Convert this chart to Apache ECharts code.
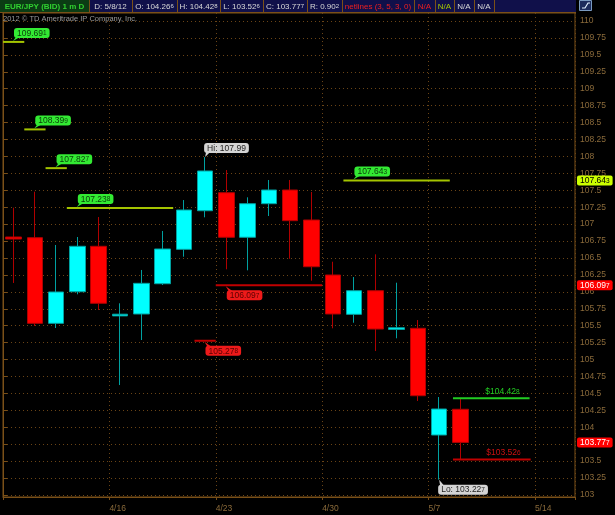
<!DOCTYPE html>
<html><head><meta charset="utf-8">
<script src="https://cdn.jsdelivr.net/npm/echarts@6/dist/echarts.min.js"></script>
<style>html,body{margin:0;padding:0;background:#000;}#c{width:615px;height:515px;}</style>
</head><body><div id="c"></div>
<script>
// ---- data (EUR/JPY daily, 4/9/12 - 5/8/12) ----
const dates  = ['4/9','4/10','4/11','4/12','4/13','4/16','4/17','4/18','4/19','4/20','4/23','4/24','4/25','4/26','4/27','4/30','5/1','5/2','5/3','5/4','5/7','5/8'];
const opens  = [106.81,106.800,105.535,106.002,106.673,105.645,105.673,106.120,106.628,107.198,107.464,106.806,107.302,107.504,107.061,106.249,105.668,106.017,105.445,105.462,103.886,104.266];
const closes = [106.78,105.535,105.998,106.673,105.831,105.670,106.126,106.633,107.209,107.785,106.806,107.302,107.504,107.051,106.371,105.673,106.017,105.451,105.470,104.466,104.270,103.777];
const lows   = [106.131,105.496,105.466,105.964,105.732,104.624,105.289,106.101,106.519,107.101,106.333,106.318,107.120,106.489,106.165,105.462,105.544,105.126,105.314,104.388,103.227,103.526];
const highs  = [107.243,107.479,106.692,106.810,107.105,105.831,106.323,106.899,107.356,107.990,107.799,107.396,107.652,107.652,107.475,106.445,106.219,106.554,106.135,105.584,104.447,104.428];
const weekLabels = ['4/16','4/23','4/30','5/7','5/14'];
const yTicks = [103,103.25,103.5,103.75,104,104.25,104.5,104.75,105,105.25,105.5,105.75,106,106.25,106.5,106.75,107,107.25,107.5,107.75,108,108.25,108.5,108.75,109,109.25,109.5,109.75,110];
// resistance levels (green), support levels (red): value, from-slot, to-slot
const upLevels   = [109.691,108.399,107.827,107.238,107.643];
const upFrom     = [-0.5,0.5,1.5,2.5,15.5];
const upTo       = [0.5,1.5,2.5,7.5,20.5];
const downLevels = [106.097,105.278];
const downFrom   = [9.5,8.5];
const downTo     = [14.5,9.5];
// target lines
const targetValues = [104.428,103.526];
const targetFrom   = [20.65,20.65];
const targetTo     = [24.25,24.3];
const hiValue = 107.99, hiIndex = 9;
const loValue = 103.227, loIndex = 20;
const rValue = 0.902;

// ---- helpers ----
const X = i => i + 0.5;
const FONT = 'Liberation Sans';
function smallLast(str, size, fill){
  return {
    text: '{m|' + str.slice(0,-1) + '}{s|' + str.slice(-1) + '}',
    rich: {m:{fontSize:size, fontFamily:FONT, fill:fill}, s:{fontSize:size-2, fontFamily:FONT, fill:fill}}
  };
}
const fmt3 = v => v.toFixed(3);

const annots = [];
upLevels.forEach((v,i)=>annots.push({kind:'up', v, from:upFrom[i], to:upTo[i]}));
downLevels.forEach((v,i)=>annots.push({kind:'down', v, from:downFrom[i], to:downTo[i]}));
targetValues.forEach((v,i)=>annots.push({kind:i===0?'tup':'tdown', v, from:targetFrom[i], to:targetTo[i]}));
annots.push({kind:'hi', v:hiValue, from:hiIndex, to:hiIndex});
annots.push({kind:'lo', v:loValue, from:loIndex, to:loIndex});
const last = dates.length - 1;
annots.push({kind:'tag', v:upLevels[4], bg:'#ccff00', fg:'#000', from:0, to:0});
annots.push({kind:'tag', v:downLevels[0], bg:'#ff0000', fg:'#fff', from:0, to:0});
annots.push({kind:'tag', v:closes[last], bg:'#ff0000', fg:'#fff', from:0, to:0});

const X_MAX = 26.885;

function renderAnnot(params, api){
  const a = annots[params.dataIndex];
  const p1 = api.coord([X(a.from), a.v]);
  const p2 = api.coord([X(a.to), a.v]);
  const kids = [];
  if (a.kind === 'up') {
    const bx = p1[0] + 11, by = p1[1] - 4;
    const t = smallLast(fmt3(a.v), 8.5, '#0a3a0a');
    kids.push({type:'line', shape:{x1:p1[0], y1:p1[1], x2:p2[0], y2:p2[1]}, style:{stroke:'#a4c400', lineWidth:2}});
    kids.push({type:'polygon', shape:{points:[[bx+2,by-1],[bx+6,by-1],[bx-1,p1[1]-1]]}, style:{fill:'#33ea33'}});
    kids.push({type:'text', x:bx, y:by, style:{text:t.text, rich:t.rich, align:'left', verticalAlign:'bottom', backgroundColor:'#33ea33', padding:[1,3,0,3], borderRadius:3}});
  } else if (a.kind === 'down') {
    const bx = p1[0] + 11, by = p1[1] + 5;
    const t = smallLast(fmt3(a.v), 8.5, '#5a0000');
    kids.push({type:'line', shape:{x1:p1[0], y1:p1[1], x2:p2[0], y2:p2[1]}, style:{stroke:'#c00000', lineWidth:2}});
    kids.push({type:'polygon', shape:{points:[[bx+2,by+1],[bx+6,by+1],[bx-1,p1[1]+1]]}, style:{fill:'#ee1a1a'}});
    kids.push({type:'text', x:bx, y:by, style:{text:t.text, rich:t.rich, align:'left', verticalAlign:'top', backgroundColor:'#ee1a1a', padding:[1,3,0,3], borderRadius:3}});
  } else if (a.kind === 'tup' || a.kind === 'tdown') {
    const col = a.kind === 'tup' ? '#22cc22' : '#cc1111';
    const t = smallLast('$' + fmt3(a.v), 8.5, col);
    kids.push({type:'line', shape:{x1:p1[0], y1:p1[1], x2:p2[0], y2:p2[1]}, style:{stroke:a.kind==='tup'?'#22cc22':'#c00000', lineWidth:2}});
    kids.push({type:'text', x:p2[0]-10, y:p1[1]-2, style:{text:t.text, rich:t.rich, align:'right', verticalAlign:'bottom'}});
  } else if (a.kind === 'hi') {
    const bx = p1[0] - 1, by = p1[1] - 4;
    kids.push({type:'polygon', shape:{points:[[bx+2,by-1],[bx+6,by-1],[p1[0],p1[1]]]}, style:{fill:'#d4d4d4'}});
    kids.push({type:'text', x:bx, y:by, style:{text:'Hi: ' + a.v.toFixed(2), fontSize:8.5, fontFamily:FONT, fill:'#222', align:'left', verticalAlign:'bottom', backgroundColor:'#d4d4d4', padding:[1,3,0,3], borderRadius:3}});
  } else if (a.kind === 'lo') {
    const bx = p1[0] - 1, by = p1[1] + 5;
    const t = smallLast('Lo: ' + fmt3(a.v), 8.5, '#222');
    kids.push({type:'polygon', shape:{points:[[bx+2,by+1],[bx+6,by+1],[p1[0],p1[1]]]}, style:{fill:'#d4d4d4'}});
    kids.push({type:'text', x:bx, y:by, style:{text:t.text, rich:t.rich, align:'left', verticalAlign:'top', backgroundColor:'#d4d4d4', padding:[1,3,0,3], borderRadius:3}});
  } else if (a.kind === 'tag') {
    const p = api.coord([X_MAX, a.v]);
    const t = smallLast(fmt3(a.v), 8.5, a.fg);
    kids.push({type:'text', x:p[0]+2, y:p[1], style:{text:t.text, rich:t.rich, align:'left', verticalAlign:'middle', backgroundColor:a.bg, padding:[1,3,0,3], borderRadius:2}});
  }
  return {type:'group', children:kids};
}

// ---- header ----
const BORDER = '#7a5018';
const cellEdges = [0,89,132,177,220,263,307,342,414,435,454,474,494];
const cells = [
  {t:'EUR/JPY (BID) 1 m D', c:'#30d030', bold:true, bg:'#0b3c14'},
  {t:'D: ' + '5/8/12', c:'#d8d8d8'},
  {t:'O: ' + fmt3(opens[last]), c:'#d8d8d8', small:true},
  {t:'H: ' + fmt3(highs[last]), c:'#d8d8d8', small:true},
  {t:'L: ' + fmt3(lows[last]), c:'#d8d8d8', small:true},
  {t:'C: ' + fmt3(closes[last]), c:'#d8d8d8', small:true},
  {t:'R: ' + fmt3(rValue), c:'#d8d8d8', small:true},
  {t:'netlines (3, 5, 3, 0)', c:'#ee2020'},
  {t:'N/A', c:'#ee2020'},
  {t:'N/A', c:'#a8c800'},
  {t:'N/A', c:'#d8d8d8'},
  {t:'N/A', c:'#d8d8d8'}
];
const graphics = [];
graphics.push({type:'rect', shape:{x:0,y:0,width:576,height:12}, style:{fill:'#10104a'}, z:10});
cells.forEach((c,i)=>{
  const x0 = cellEdges[i], x1 = cellEdges[i+1];
  if (c.bg) graphics.push({type:'rect', shape:{x:x0,y:0,width:x1-x0,height:12}, style:{fill:c.bg}, z:11});
  let st;
  if (c.small) {
    const s = smallLast(c.t, 8, c.c);
    st = {text:s.text, rich:s.rich};
  } else {
    st = {text:c.t, fontSize:8, fontFamily:FONT, fontWeight:c.bold?'bold':'normal', fill:c.c};
  }
  st.align = 'center'; st.verticalAlign = 'middle';
  graphics.push({type:'text', x:(x0+x1)/2, y:6.5, style:st, z:12});
  graphics.push({type:'line', shape:{x1:x1+0.5,y1:0,x2:x1+0.5,y2:12}, style:{stroke:BORDER,lineWidth:1}, z:12});
});
graphics.push({type:'line', shape:{x1:0,y1:12.5,x2:576,y2:12.5}, style:{stroke:BORDER,lineWidth:1}, z:12});
graphics.push({type:'rect', shape:{x:579.5,y:0.5,width:12,height:10}, style:{fill:'#1c2c5c', stroke:'#7a9ac0', lineWidth:1}, z:12});
graphics.push({type:'polyline', shape:{points:[[582,8],[585,8],[588,3],[590,3]]}, style:{stroke:'#e0f0ff', lineWidth:1.2, fill:null}, z:13});
graphics.push({type:'text', x:3, y:18.5, style:{text:'2012 © TD Ameritrade IP Company, Inc.', fontSize:7.5, fontFamily:FONT, fill:'#9a9a9a', verticalAlign:'middle'}, z:12});

const chart = echarts.init(document.getElementById('c'));
chart.setOption({
  animation:false,
  backgroundColor:'#000000',
  grid:{left:1, right:40, top:13, bottom:18, show:true, borderColor:BORDER, borderWidth:1, backgroundColor:'transparent'},
  xAxis:{
    type:'value', min:0, max:X_MAX, interval:5,
    axisLine:{show:true, lineStyle:{color:BORDER}},
    axisTick:{show:true, length:3, lineStyle:{color:BORDER}},
    axisLabel:{color:'#8a6a3a', fontSize:8.5, fontFamily:FONT, align:'left', margin:7,
      formatter:v => v === 0 ? '' : (weekLabels[v/5 - 1] || '')},
    splitLine:{show:true, lineStyle:{color:'#6a4416', type:[1,3], width:1}}
  },
  yAxis:{
    type:'value', position:'right', min:102.9705, max:110.118,
    axisLine:{show:true, lineStyle:{color:BORDER}},
    axisTick:{show:true, length:4, inside:false, lineStyle:{color:BORDER}, customValues:yTicks},
    axisLabel:{color:'#8a6a3a', fontSize:8.5, fontFamily:FONT, margin:5, customValues:yTicks,
      formatter:v => String(+v.toFixed(2))},
    splitLine:{show:true, lineStyle:{color:'#6a4416', type:[1,3], width:1}}
  },
  graphic:graphics,
  series:[
    {
      type:'candlestick',
      data:dates.map((d,i)=>[X(i), opens[i], closes[i], lows[i], highs[i]]),
      barWidth:16,
      itemStyle:{color:'#00ffff', color0:'#ff0000', borderColor:'#00a0a0', borderColor0:'#b00000', borderWidth:1}
    },
    {
      type:'custom',
      clip:false,
      renderItem:renderAnnot,
      data:annots.map(a=>[X(a.from), a.v]),
      z:5
    }
  ]
});
</script></body></html>
